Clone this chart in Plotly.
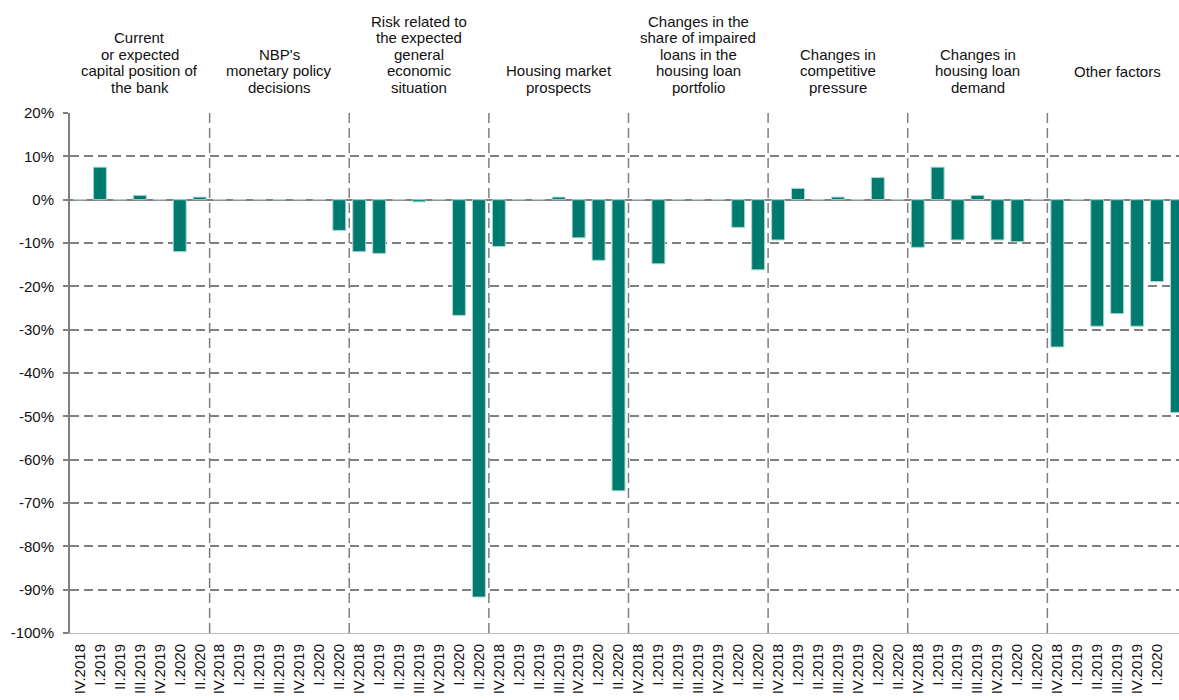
import plotly.graph_objects as go

quarters = ["IV.2018", "I.2019", "II.2019", "III.2019", "IV.2019", "I.2020", "II.2020"]

group_titles = [
    ["Current", "or expected", "capital position of", "the bank"],
    ["NBP's", "monetary policy", "decisions"],
    ["Risk related to", "the expected", "general", "economic", "situation"],
    ["Housing market", "prospects"],
    ["Changes in the", "share of impaired", "loans in the", "housing loan", "portfolio"],
    ["Changes in", "competitive", "pressure"],
    ["Changes in", "housing loan", "demand"],
    ["Other factors"],
]

capital_position = [0, 7.5, 0, 1.0, 0, -12.0, 0.6]
monetary_policy = [0, 0, 0, 0, 0, 0, -7.1]
economic_risk = [-12.0, -12.4, 0, -0.5, 0, -26.7, -91.7]
housing_market = [-10.8, 0, 0, 0.6, -8.8, -14.0, -67.2]
impaired_loans = [0, -14.8, 0, 0, 0, -6.4, -16.2]
competitive_pressure = [-9.3, 2.6, 0, 0.6, 0, 5.1, 0]
loan_demand = [-11.0, 7.5, -9.3, 1.0, -9.3, -9.7, 0]
other_factors = [-34.0, 0, -29.2, -26.3, -29.2, -18.9, -49.1]

series = [capital_position, monetary_policy, economic_risk, housing_market,
          impaired_loans, competitive_pressure, loan_demand, other_factors]

y_ticks = list(range(-100, 21, 10))

n_q = len(quarters)
values = [v for s in series for v in s]
labels = [q for s in series for q in quarters]
xpos = list(range(len(values)))

GRAY = "#7f7f7f"
BAR = "#007A6E"
FONT = "Liberation Sans, Arial, sans-serif"

fig = go.Figure()
fig.add_trace(go.Bar(
    x=xpos, y=values,
    marker=dict(color=BAR, line=dict(color="#a8d8d0", width=1)),
    width=0.65,
    hovertemplate="%{text}: %{y}%<extra></extra>",
    text=labels, textposition="none",
))

# group separators
for g in range(1, len(series)):
    fig.add_shape(type="line", xref="x", yref="y",
                  x0=g * n_q - 0.5, x1=g * n_q - 0.5, y0=-100, y1=20,
                  line=dict(color=GRAY, width=1.5, dash="10px,5px"), layer="below")

# group titles, one annotation per line
line_h = 16.6
plot_top_px, plot_h = 113, 520
for g, lines in enumerate(group_titles):
    n = len(lines)
    last_y = 71 if n == 1 else 87.5
    for i, t in enumerate(lines):
        ypix = last_y - (n - 1 - i) * line_h
        fig.add_annotation(
            x=g * n_q + (n_q - 1) / 2, xref="x",
            y=(plot_top_px + plot_h - ypix) / plot_h, yref="paper",
            text=t, showarrow=False, xanchor="center", yanchor="middle",
            font=dict(family=FONT, size=15, color="#111111"),
        )

fig.update_layout(
    width=1179, height=700,
    margin=dict(l=70, r=0, t=113, b=67, autoexpand=False),
    plot_bgcolor="white", paper_bgcolor="white",
    showlegend=False,
    bargap=0.35,
    font=dict(family=FONT, size=15, color="#111111"),
)
fig.update_xaxes(
    range=[-0.5, len(values) - 0.9],
    tickmode="array", tickvals=xpos, ticktext=labels,
    tickangle=-90, tickfont=dict(size=15, color="#111111"),
    showgrid=False, zeroline=False,
    showline=True, linecolor="#bdbdbd", linewidth=1,
    ticks="", ticklabelstandoff=4,
)
fig.update_yaxes(
    range=[-100, 20],
    tickmode="array", tickvals=y_ticks, ticktext=[f"{v}%" for v in y_ticks],
    tickfont=dict(size=15, color="#111111"),
    showgrid=True, gridcolor=GRAY, gridwidth=1.5, griddash="9px,5px",
    zeroline=True, zerolinecolor=GRAY, zerolinewidth=2,
    showline=True, linecolor=GRAY, linewidth=2,
    ticks="outside", ticklen=5, tickcolor=GRAY, tickwidth=1.5,
    ticklabelstandoff=6,
)

fig.write_html("out.html", config={"displayModeBar": False},
               post_script="document.body.style.margin='0';")
